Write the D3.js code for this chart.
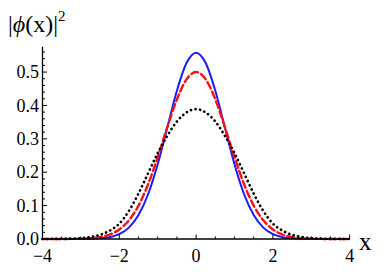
<!DOCTYPE html>
<html>
<head>
<meta charset="utf-8">
<script src="https://cdn.jsdelivr.net/npm/d3@7"></script>
<style>
  body { margin: 0; background: #fff; }
  svg { display: block; }
  .tick-label { font-family: "Liberation Serif", "Times New Roman", serif; font-size: 18px; }
  .axis-label { font-family: "Liberation Serif", "Times New Roman", serif; }
</style>
</head>
<body>
<svg id="chart" width="382" height="273"></svg>
<script>
// sample positions (x) and |phi(x)|^2, curves are symmetric
const xs = [-4, -3.75, -3.5, -3.25, -3, -2.75, -2.5, -2.25, -2, -1.75, -1.5, -1.25, -1, -0.75, -0.5, -0.25,
  0, 0.25, 0.5, 0.75, 1, 1.25, 1.5, 1.75, 2, 2.25, 2.5, 2.75, 3, 3.25, 3.5, 3.75, 4];

const blueHalf = [0.558, 0.527, 0.444, 0.334, 0.224, 0.134, 0.0716, 0.034, 0.0145, 0.0055, 0.0019, 0.0006, 0.0002, 0, 0, 0, 0];
const redHalf = [0.500, 0.478, 0.418, 0.335, 0.245, 0.164, 0.100, 0.056, 0.0287, 0.0134, 0.0058, 0.0023, 0.0008, 0.0003, 0.0001, 0, 0];
const blackHalf = [0.389, 0.379, 0.352, 0.309, 0.257, 0.197, 0.136, 0.084, 0.046, 0.025, 0.0126, 0.006, 0.0026, 0.001, 0.0004, 0.0001, 0];

const xTicks = [-4, -2, 0, 2, 4];
const yTicks = [0, 0.1, 0.2, 0.3, 0.4, 0.5];

// mirror the half profiles onto the full x grid
function mirror(half) {
  return half.slice(1).reverse().concat(half);
}
const series = [
  { name: "blue", values: mirror(blueHalf), color: "#1a1aff", dash: null, width: 2 },
  { name: "red", values: mirror(redHalf), color: "#ff1010", dash: "7,3.5", width: 2.4 },
  { name: "black", values: mirror(blackHalf), color: "#000", dash: "0.1,4.5", width: 2.7 }
];

const svg = d3.select("#chart");

const x = d3.scaleLinear().domain([-4, 4]).range([42.5, 349.7]);
const y = d3.scaleLinear().domain([0, 0.576]).range([239, 46.7]);

// curves
const line = d3.line()
  .x((d, i) => x(xs[i]))
  .y(d => y(d))
  .curve(d3.curveMonotoneX);

series.forEach(s => {
  svg.append("path")
    .attr("d", line(s.values))
    .attr("fill", "none")
    .attr("stroke", s.color)
    .attr("stroke-width", s.width)
    .attr("stroke-linecap", s.dash ? "round" : "butt")
    .attr("stroke-dasharray", s.dash);
});

// x axis, ticks point up into the plot
const xAxis = svg.append("g");
xAxis.append("line")
  .attr("x1", x(-4)).attr("x2", x(4))
  .attr("y1", y(0)).attr("y2", y(0))
  .attr("stroke", "#000").attr("stroke-width", 1.3);
d3.range(-4, 4.01, 0.5).forEach(v => {
  const major = Math.abs(v % 2) < 1e-9;
  xAxis.append("line")
    .attr("x1", x(v)).attr("x2", x(v))
    .attr("y1", y(0)).attr("y2", y(0) - (major ? 4.5 : 2.5))
    .attr("stroke", "#000").attr("stroke-width", 1);
});
xAxis.selectAll("text.tick-label")
  .data(xTicks)
  .join("text")
  .attr("class", "tick-label")
  .attr("x", d => x(d))
  .attr("y", 262)
  .attr("text-anchor", "middle")
  .text(d => d < 0 ? "\u2212" + Math.abs(d) : d);

// y axis, ticks point right into the plot
const yAxis = svg.append("g");
yAxis.append("line")
  .attr("x1", x(-4)).attr("x2", x(-4))
  .attr("y1", y(0)).attr("y2", y(0.576))
  .attr("stroke", "#000").attr("stroke-width", 1.3);
d3.range(0, 0.5601, 0.02).forEach(v => {
  const major = Math.abs(Math.round(v * 50) % 5) === 0;
  yAxis.append("line")
    .attr("x1", x(-4)).attr("x2", x(-4) + (major ? 4.5 : 2.5))
    .attr("y1", y(v)).attr("y2", y(v))
    .attr("stroke", "#000").attr("stroke-width", 1);
});
yAxis.selectAll("text.tick-label")
  .data(yTicks)
  .join("text")
  .attr("class", "tick-label")
  .attr("x", 39)
  .attr("y", d => y(d))
  .attr("dy", "0.34em")
  .attr("text-anchor", "end")
  .text(d => d.toFixed(1));

// axis labels
svg.append("text")
  .attr("class", "axis-label")
  .attr("x", 359)
  .attr("y", 250)
  .style("font-size", "25px")
  .text("x");

const yl = svg.append("text")
  .attr("class", "axis-label")
  .attr("x", 8)
  .attr("y", 32)
  .style("font-size", "24px");
yl.append("tspan").text("|");
yl.append("tspan").style("font-style", "italic").text("\u03d5");
yl.append("tspan").text("(x)|");
yl.append("tspan").attr("dy", -11).style("font-size", "15px").text("2");
</script>
</body>
</html>
